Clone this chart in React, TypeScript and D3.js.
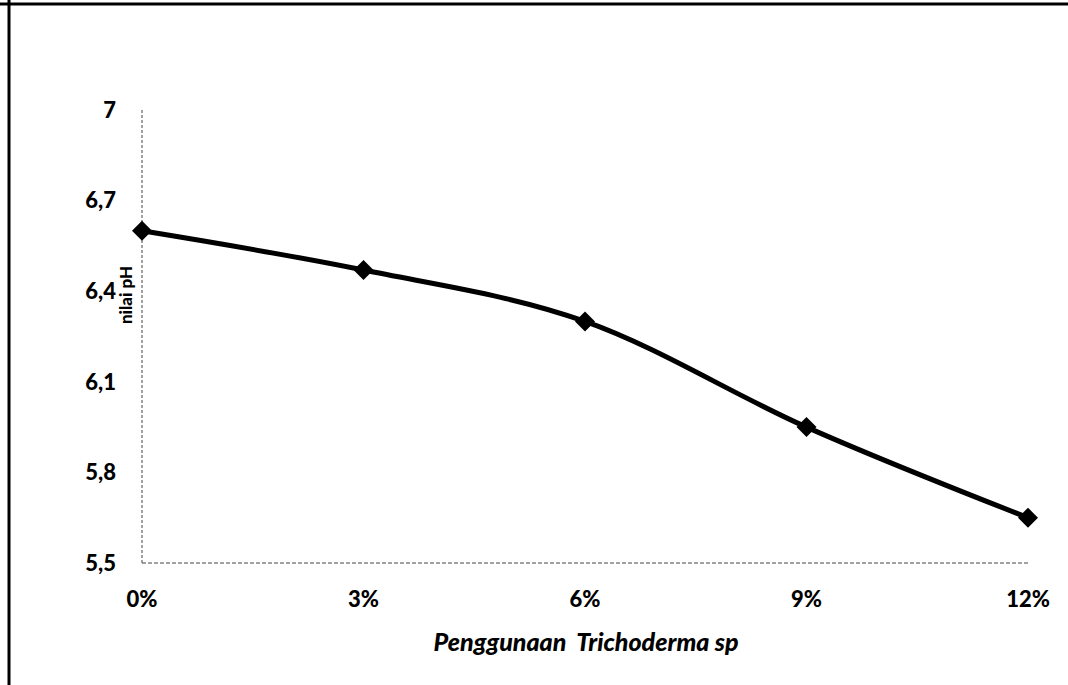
import * as d3 from "d3";

const categories = ["0%", "3%", "6%", "9%", "12%"];
const phValues = [6.6, 6.47, 6.3, 5.95, 5.65];
const yTicks = [5.5, 5.8, 6.1, 6.4, 6.7, 7];

const width = 1068;
const height = 685;
const marginLeft = 142;
const marginRight = 40;
const marginTop = 110;
const marginBottom = 122;

const font = "Lato, 'Open Sans', sans-serif";

export default function App() {
  const x = d3
    .scalePoint<string>()
    .domain(categories)
    .range([marginLeft, width - marginRight]);

  const y = d3.scaleLinear([5.5, 7], [height - marginBottom, marginTop]);

  const line = d3
    .line<number>()
    .x((d, i) => x(categories[i]) as number)
    .y((d) => y(d))
    .curve(d3.curveCatmullRom.alpha(0));

  const diamond = d3.symbol(d3.symbolSquare, 200)();
  const fmt = (v: number) => String(v).replace(".", ",");

  return (
    <div style={{ position: "fixed", left: 0, top: 0 }}>
      <svg width={width} height={height} style={{ display: "block", background: "#fff" }}>
        {/* scan border */}
        <line x1={9} x2={9} y1={0} y2={height} stroke="#000" strokeWidth={3} />
        <line x1={0} x2={width} y1={4} y2={4} stroke="#000" strokeWidth={3} />

        {/* axes */}
        <line
          x1={marginLeft}
          x2={marginLeft}
          y1={marginTop}
          y2={height - marginBottom}
          stroke="#444"
          strokeWidth={1}
          strokeDasharray="3,2"
        />
        <line
          x1={marginLeft}
          x2={width - marginRight + 2}
          y1={height - marginBottom}
          y2={height - marginBottom}
          stroke="#444"
          strokeWidth={1}
          strokeDasharray="4,2"
        />

        <g fontFamily={font} fontWeight="900" fontSize={22} fill="#000">
          {yTicks.map((t) => (
            <text key={t} x={116} y={y(t)} dy="0.35em" textAnchor="end">
              {fmt(t)}
            </text>
          ))}
          {categories.map((c) => (
            <text key={c} x={x(c)} y={height - marginBottom + 44} textAnchor="middle">
              {c}
            </text>
          ))}
          <text
            x={586}
            y={651}
            textAnchor="middle"
            fontStyle="italic"
            fontSize={25}
            style={{ whiteSpace: "pre" }}
          >
            {"Penggunaan  Trichoderma sp"}
          </text>
          <text
            transform="translate(132,295) rotate(-90)"
            textAnchor="middle"
            fontSize={17}
          >
            nilai pH
          </text>
        </g>

        <path d={line(phValues) ?? ""} fill="none" stroke="#000" strokeWidth={5} />
        {phValues.map((v, i) => (
          <path
            key={i}
            d={diamond ?? ""}
            transform={`translate(${x(categories[i])},${y(v)}) rotate(45)`}
            fill="#000"
          />
        ))}
      </svg>
    </div>
  );
}
